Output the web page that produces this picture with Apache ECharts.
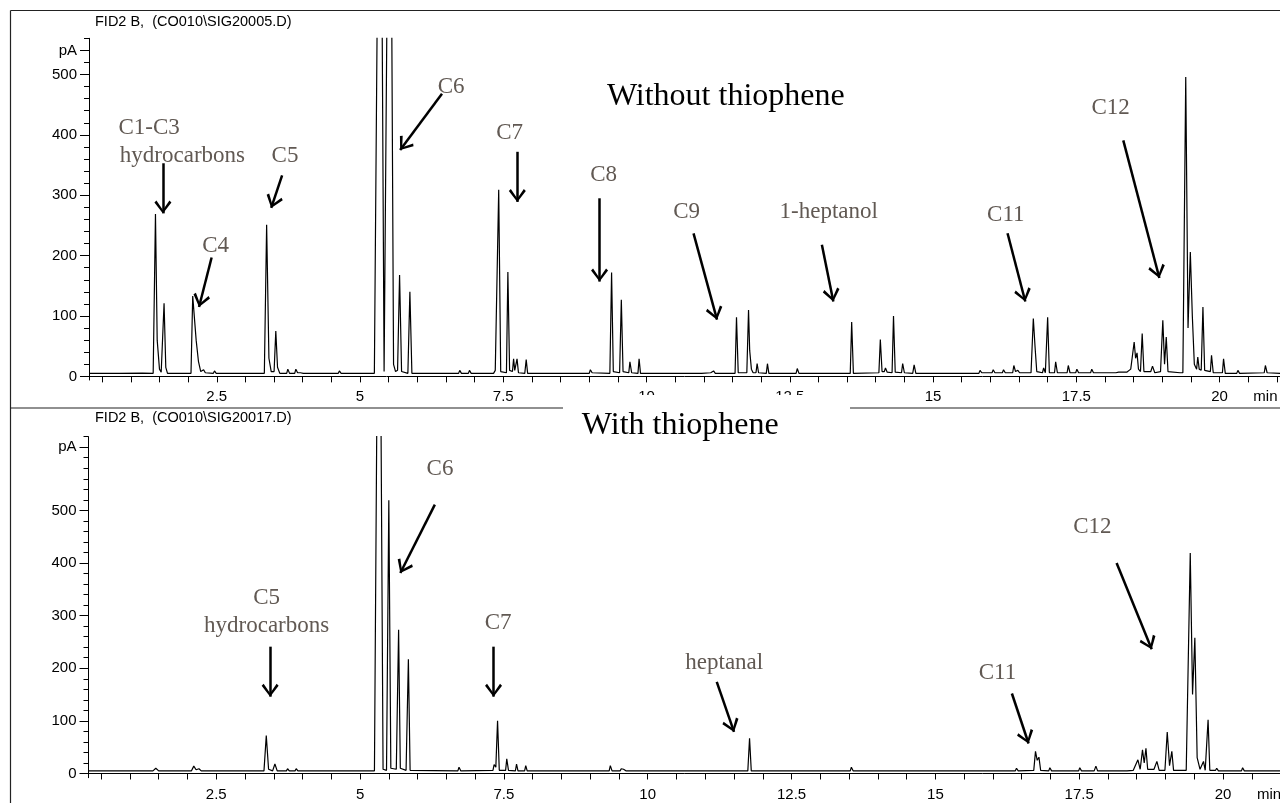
<!DOCTYPE html>
<html><head><meta charset="utf-8">
<script src="https://cdn.jsdelivr.net/npm/echarts@6/dist/echarts.min.js"></script>
<style>html,body{margin:0;padding:0;background:#fff}#c{width:1280px;height:803px}</style>
</head><body><div id="c"></div>
<script>
// ---------- data (retention time [min], signal [pA]) ----------
const traceWithout = [
[0.27,5],[0.8,5],[1.2,5.5],[1.39,5],[1.43,269],[1.46,60],[1.50,12],[1.53,7],[1.555,6],[1.58,121],[1.61,15],[1.64,5],
[2.05,5],[2.08,133],[2.11,136],[2.14,60],[2.18,25],[2.22,8],[2.25,6],[2.27,11],[2.30,6],[2.44,5],[2.46,9],[2.49,5],
[2.82,5],[2.84,7],[2.87,5],[3.06,5],[3.08,6],[3.10,5],
[3.33,5],[3.37,251],[3.41,30],[3.45,8],[3.50,8],[3.53,75],[3.56,15],[3.60,5],[3.72,5],[3.74,12],[3.77,5],[3.86,5],[3.88,12],[3.91,6],[3.96,6],[3.98,8],[4.01,5],
[4.62,5],[4.64,9],[4.67,5],[5.25,5],
[5.28,6],[5.35,1200],[5.42,8],[5.45,8],[5.52,1200],[5.585,20],[5.62,8],[5.655,10],[5.69,168],[5.725,8],[5.835,5],[5.87,140],[5.905,5],
[6.72,5],[6.74,10],[6.77,5],[6.89,5],[6.91,10],[6.94,5],[7.33,5],[7.36,10],
[7.39,7],[7.42,309],[7.455,8],[7.555,6],[7.58,173],[7.61,10],[7.66,8],[7.68,29],[7.70,10],[7.715,9],[7.74,29],[7.765,6],[7.875,5],[7.90,28],[7.925,5],
[8.55,5],[8.57,8],[8.60,5],[8.80,5],[8.82,7],[8.85,5],[9.00,5],[9.02,11],[9.05,6],
[9.36,5],[9.39,172],[9.42,8],[9.53,6],[9.56,127],[9.59,8],[9.69,6],[9.71,24],[9.74,6],[9.85,5],[9.87,29],[9.895,5],
[10.91,5],[10.93,8],[10.96,5],[11.12,6],[11.14,9],[11.17,9],[11.20,5],
[11.545,5],[11.57,98],[11.60,6],[11.75,6],[11.78,110],[11.80,43],[11.83,12],[11.86,6],[11.91,6],[11.93,21],[11.955,6],[12.09,5],[12.11,21],[12.135,5],
[12.61,5],[12.63,13],[12.66,5],[13.28,5],[13.30,8],[13.33,5],
[13.555,5],[13.58,90],[13.61,5],[14.055,6],[14.08,61],[14.11,8],[14.15,8],[14.17,14],[14.20,7],[14.285,6],[14.31,100],[14.34,7],[14.45,6],[14.47,21],[14.50,6],[14.645,5],[14.67,19],[14.70,5],
[15.80,5],[15.82,10],[15.85,6],[15.89,6],[15.91,9],[15.94,6],[16.03,6],[16.05,11],[16.08,6],[16.21,6],[16.23,11],[16.26,6],[16.39,6],[16.41,18],[16.44,8],[16.48,10],[16.51,6],
[16.71,6],[16.75,96],[16.78,49],[16.81,8],[16.91,6],[16.93,14],[16.96,6],[16.98,6],[17.00,98],[17.03,6],[17.12,6],[17.14,24],[17.17,6],
[17.34,6],[17.36,18],[17.39,6],[17.49,6],[17.51,12],[17.54,6],[17.75,6],[17.77,12],[17.80,6],[18.19,6],[18.21,9],[18.24,7],[18.27,8],[18.30,7],
[18.38,7],[18.45,12],[18.51,57],[18.535,30],[18.56,39],[18.585,12],[18.62,8],[18.65,71],[18.68,8],[18.80,8],[18.83,17],[18.87,6],[18.97,8],[19.01,93],[19.04,20],[19.07,65],[19.10,8],[19.31,6],
[19.36,6],[19.41,496],[19.45,80],[19.49,206],[19.525,100],[19.56,20],[19.60,12],[19.62,32],[19.645,12],[19.68,10],[19.71,115],[19.74,10],[19.84,8],[19.86,35],[19.89,6],[20.05,6],[20.07,29],[20.10,5],[20.30,5],[20.32,10],[20.35,5],[20.78,6],[20.80,18],[20.83,6],[21.06,5]
];
const traceWith = [
[0.28,5],[1.40,5],[1.45,10],[1.50,5],[1.58,5],[1.60,8],[1.63,5],[2.07,5],[2.11,14],[2.15,7],[2.20,9],[2.24,5],[2.45,5],[2.47,7],[2.50,5],
[3.33,5],[3.37,72],[3.41,8],[3.48,5],[3.52,18],[3.56,5],[3.72,5],[3.74,9],[3.77,5],[3.87,5],[3.89,9],[3.92,5],
[5.25,5],[5.27,6],[5.33,1300],[5.40,8],[5.46,6],[5.50,519],[5.535,10],[5.63,8],[5.67,273],[5.70,10],[5.80,6],[5.84,217],[5.87,6],
[6.70,5],[6.72,12],[6.75,5],[7.31,6],[7.33,17],[7.36,12],[7.39,100],[7.42,6],[7.53,6],[7.55,28],[7.58,6],[7.70,5],[7.72,18],[7.745,5],[7.86,5],[7.88,15],[7.905,5],
[9.33,5],[9.35,15],[9.38,5],[9.52,5],[9.54,9],[9.58,8],[9.62,5],[10.85,5],[10.87,8],[10.90,5],
[11.74,5],[11.77,67],[11.80,5],[13.52,5],[13.54,12],[13.57,5],[14.07,5],[14.09,7],[14.12,5],[14.35,5],[14.37,8],[14.40,5],
[16.01,5],[16.03,8],[16.06,5],[16.39,5],[16.41,10],[16.44,5],[16.71,6],[16.74,42],[16.77,25],[16.80,31],[16.83,6],[16.97,5],[16.99,11],[17.02,5],[17.49,5],[17.51,11],[17.54,5],[17.76,5],[17.79,14],[17.82,5],[18.28,5],[18.30,7],[18.33,5],
[18.44,6],[18.52,26],[18.56,8],[18.60,45],[18.63,20],[18.66,48],[18.69,8],[18.80,8],[18.85,23],[18.89,6],[18.99,6],[19.03,79],[19.07,15],[19.11,42],[19.14,6],[19.36,6],[19.43,419],[19.47,150],[19.51,258],[19.55,30],[19.60,8],[19.66,23],[19.69,6],[19.74,102],[19.77,6],[19.87,6],[19.89,10],[19.92,5],[20.10,5],[20.12,8],[20.15,5],[20.32,5],[20.34,11],[20.37,5],[20.83,5],[20.85,8],[20.88,5],[21.0,5]
];

// axis ticks / labels
const xTickValues = [0.5,1,1.5,2,2.5,3,3.5,4,4.5,5,5.5,6,6.5,7,7.5,8,8.5,9,9.5,10,10.5,11,11.5,12,12.5,13,13.5,14,14.5,15,15.5,16,16.5,17,17.5,18,18.5,19,19.5,20,20.5,21];
const xLabelValues = [2.5,5,7.5,10,12.5,15,17.5,20];
const yMinorTop = [0,20,40,60,80,100,120,140,160,180,200,220,240,260,280,300,320,340,360,380,400,420,440,460,480,500,520,540,560];
const yMinorBottom = [0,20,40,60,80,100,120,140,160,180,200,220,240,260,280,300,320,340,360,380,400,420,440,460,480,500,520,540,560,580,600,620,640];
const yLabelsTop = [0,100,200,300,400,500,540];      // 540 carries the unit "pA"
const yLabelsBottom = [0,100,200,300,400,500,620];   // 620 carries the unit "pA"

// annotations (data coordinates)
const labelTextTop = ['C1-C3','hydrocarbons','C5','C4','C6','C7','C8','C9','1-heptanol','C11','C12'];
const labelTimeTop = [1.32,1.90,3.69,2.48,6.59,7.61,9.25,10.70,13.18,16.27,18.10];
const labelSignalTop = [411,365,365,216,480,403,334,273,273,268,444];
const arrowsTop = [
 [[1.56,353],[1.56,270]], [[3.64,333],[3.45,279]], [[2.41,197],[2.19,115]], [[6.43,468],[5.70,375]],
 [[7.745,372],[7.745,289]], [[9.18,295],[9.18,157]], [[10.82,237],[11.23,94]], [[13.06,218],[13.26,124]],
 [[16.30,237],[16.61,124]], [[18.32,391],[18.95,163]]
];
const labelTextBottom = ['C6','C5','hydrocarbons','C7','heptanal','C11','C12'];
const labelTimeBottom = [6.39,3.376,3.376,7.40,11.33,16.08,17.73];
const labelSignalBottom = [579,334,280,286,211,191,469];
const arrowsBottom = [
 [[6.30,511],[5.70,381]], [[3.437,241],[3.437,146]], [[7.32,241],[7.32,146]],
 [[11.20,174],[11.50,79]], [[16.33,152],[16.62,57]], [[18.15,400],[18.76,236]]
];

// ---------- chart ----------
const CHEVRON = 'path://M0,0 M26,0 M13,13 L21.5,24 L19.5,26 L13,16.5 L6.5,26 L4.5,24 Z';
const sans = 'Liberation Sans, Arial, sans-serif';
const serif = 'Liberation Serif, Times New Roman, serif';
const labelGray = '#615953';

function xAxis(grid, min, max, margin) {
  return {
    type: 'value', gridIndex: grid, min: min, max: max, position: 'bottom',
    axisLine: {show: true, lineStyle: {color: '#000', width: 1}},
    axisTick: {show: true, customValues: xTickValues, length: 6, lineStyle: {color: '#000', width: 1}},
    axisLabel: {show: true, customValues: xLabelValues.concat([20.8]), margin: margin,
      formatter: v => v > 20.6 ? 'min' : String(v), color: '#000', fontSize: 15, fontFamily: sans},
    splitLine: {show: false}
  };
}
function yAxes(grid, min, max, minor, labels, unitAt) {
  return [{
    type: 'value', gridIndex: grid, min: min, max: max, position: 'left',
    axisLine: {show: true, lineStyle: {color: '#000', width: 1}},
    axisTick: {show: true, customValues: minor, length: 5, lineStyle: {color: '#000', width: 1}},
    axisLabel: {show: false}, splitLine: {show: false}
  }, {
    type: 'value', gridIndex: grid, min: min, max: max, position: 'left',
    axisLine: {show: false},
    axisTick: {show: true, customValues: labels, length: 9, lineStyle: {color: '#000', width: 1}},
    axisLabel: {show: true, customValues: labels, margin: 12, color: '#000', fontSize: 15, fontFamily: sans,
      formatter: v => v === unitAt ? 'pA' : String(v)},
    splitLine: {show: false}
  }];
}
function marks(texts, times, signals, arrows) {
  return {
    markPoint: {
      silent: true, symbol: 'rect', symbolSize: 1, itemStyle: {color: 'rgba(0,0,0,0)'},
      label: {show: true, position: 'inside', formatter: '{b}', color: labelGray, fontSize: 23, fontFamily: serif},
      data: texts.map((t, i) => ({name: t, coord: [times[i], signals[i]]}))
    },
    markLine: {
      silent: true, symbol: ['none', CHEVRON], symbolSize: 26,
      lineStyle: {color: '#000', width: 2.5, type: 'solid'}, label: {show: false},
      emphasis: {disabled: true},
      data: arrows.map(a => [{coord: a[0]}, {coord: a[1]}])
    }
  };
}

const chart = echarts.init(document.getElementById('c'), null, {renderer: 'canvas'});
chart.setOption({
  animation: false,
  backgroundColor: '#fff',
  grid: [
    {left: 89, top: 38.3, right: 0, height: 341.7, containLabel: false, outerBoundsMode: 'none'},
    {left: 88.5, top: 436.7, right: 0, height: 341, containLabel: false, outerBoundsMode: 'none'}
  ],
  xAxis: [xAxis(0, 0.27, 21.055, 9), xAxis(1, 0.28, 20.99, 10)],
  yAxis: yAxes(0, -6, 560, yMinorTop, yLabelsTop, 540).concat(yAxes(1, -8, 640, yMinorBottom, yLabelsBottom, 620)),
  series: [
    Object.assign({type: 'line', name: 'Without thiophene', xAxisIndex: 0, yAxisIndex: 0, data: traceWithout,
      symbol: 'none', showSymbol: false, silent: true, lineStyle: {color: '#000', width: 1.2}},
      marks(labelTextTop, labelTimeTop, labelSignalTop, arrowsTop)),
    Object.assign({type: 'line', name: 'With thiophene', xAxisIndex: 1, yAxisIndex: 2, data: traceWith,
      symbol: 'none', showSymbol: false, silent: true, lineStyle: {color: '#000', width: 1.2}},
      marks(labelTextBottom, labelTimeBottom, labelSignalBottom, arrowsBottom))
  ],
  graphic: [
    {type: 'line', z: 90, silent: true, shape: {x1: 10.5, y1: 10.5, x2: 1280, y2: 10.5}, style: {stroke: '#222', lineWidth: 1.2}},
    {type: 'line', z: 90, silent: true, shape: {x1: 10.5, y1: 10.5, x2: 10.5, y2: 803}, style: {stroke: '#222', lineWidth: 1.2}},
    {type: 'line', z: 90, silent: true, shape: {x1: 10.5, y1: 408, x2: 1280, y2: 408}, style: {stroke: '#222', lineWidth: 1.2}},
    {type: 'rect', z: 95, silent: true, shape: {x: 563, y: 395, width: 287, height: 41}, style: {fill: '#fff'}},
    {type: 'text', z: 100, silent: true, x: 95, y: 21.8, style: {text: 'FID2 B,  (CO010\\SIG20005.D)', font: '14.5px ' + sans, fill: '#000', verticalAlign: 'middle'}},
    {type: 'text', z: 100, silent: true, x: 95, y: 418.4, style: {text: 'FID2 B,  (CO010\\SIG20017.D)', font: '14.5px ' + sans, fill: '#000', verticalAlign: 'middle'}},
    {type: 'text', z: 100, silent: true, x: 725.8, y: 96.2, style: {text: 'Without thiophene', font: '32px ' + serif, fill: '#000', align: 'center', verticalAlign: 'middle'}},
    {type: 'text', z: 100, silent: true, x: 680.3, y: 425.9, style: {text: 'With thiophene', font: '32px ' + serif, fill: '#000', align: 'center', verticalAlign: 'middle'}}
  ]
});
</script></body></html>
